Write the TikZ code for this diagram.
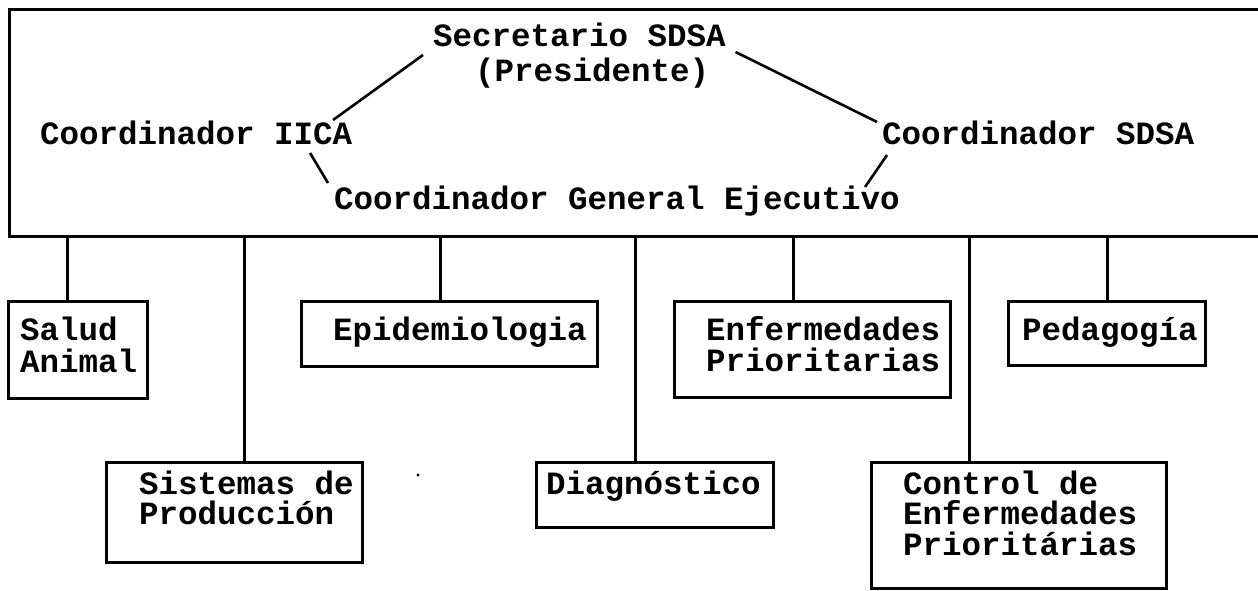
\documentclass[tikz,border=0pt]{standalone}
\usepackage{fontspec}
\newfontfamily\courfont{Liberation Mono}
\begin{document}
\begin{tikzpicture}[x=1pt,y=-1pt,
  txt/.style={inner sep=0pt, outer sep=0pt, anchor=base west, text height=20pt, text depth=7pt,
    font=\courfont\bfseries\fontsize{32.5pt}{35pt}\selectfont},
  box/.style={draw, line width=3pt, anchor=north west, inner sep=0pt, outer sep=0pt},
  link/.style={line width=2.6pt},
  drop/.style={line width=3pt}]
\useasboundingbox (0,0) rectangle (1258,591);
% frame (no right border: cut at the image edge)
\node[anchor=north west, inner sep=0pt, outer sep=0pt, minimum width=1256pt, minimum height=226pt] (frame) at (9,10) {};
\draw[line width=3pt] (frame.north east) -- (frame.north west) -- (frame.south west) -- (frame.south east);
% texts in frame
\node[txt] (secA) at (433,47) {Secretario SDSA};
\node[txt] (secB) at (475,82) {(Presidente)};
\node[txt] (iica) at (40,145) {Coordinador IICA};
\node[txt] (sdsa) at (882,145) {Coordinador SDSA};
\node[txt] (gen)  at (334,209) {Coordinador General Ejecutivo};
\draw[link] ([shift={(-10,1)}]secA.south west) -- ([shift={(-19,-5)}]iica.north east);
\draw[link] ([shift={(-42,1)}]iica.south east) -- ([shift={(-6,-6)}]gen.north west);
\draw[link] ([shift={(10,-2)}]secA.south east) -- ([shift={(-5,-3)}]sdsa.north west);
\draw[link] ([shift={(5,3)}]sdsa.south west) -- ([shift={(-34.5,-2)}]gen.north east);
% boxes
\node[box, minimum width=139pt, minimum height=97pt] (sal) at (8,301) {};
\node[box, minimum width=296pt, minimum height=65pt] (epi) at (301,301) {};
\node[box, minimum width=276pt, minimum height=96pt] (enf) at (674,301) {};
\node[box, minimum width=197pt, minimum height=64pt] (ped) at (1008,301) {};
\node[box, minimum width=256pt, minimum height=100pt] (sis) at (106,462) {};
\node[box, minimum width=237pt, minimum height=65pt] (dia) at (536,462) {};
\node[box, minimum width=295pt, minimum height=126pt] (con) at (871,462) {};
% box texts
\node[txt] (salA) at (20,340) {Salud};
\node[txt] (salB) at (20,372) {Animal};
\node[txt] (epiA) at (333,340) {Epidemiologia};
\node[txt] (enfA) at (706,340) {Enfermedades};
\node[txt] (enfB) at (706,371) {Prioritarias};
\node[txt] (pedA) at (1022,340) {Pedagogía};
\node[txt] (sisA) at (139,494) {Sistemas de};
\node[txt] (sisB) at (139,524) {Producción};
\node[txt] (diaA) at (546,494) {Diagnóstico};
\node[txt] (conA) at (903,494) {Control de};
\node[txt] (conB) at (903,524.5) {Enfermedades};
\node[txt] (conC) at (903,555) {Prioritárias};
% drop lines
\path (sal.north west) ++(59,0) coordinate (salc);
\path (sis.north west) ++(138,0) coordinate (sisc);
\path (epi.north west) ++(139,0) coordinate (epic);
\path (dia.north west) ++(99,0) coordinate (diac);
\path (enf.north west) ++(119,0) coordinate (enfc);
\path (con.north west) ++(98,0) coordinate (conc);
\path (ped.north west) ++(99,0) coordinate (pedc);
\foreach \c in {salc,sisc,epic,diac,enfc,conc,pedc}
  \draw[drop] (\c) -- (\c |- frame.south);
% stray speck in the scan
\fill (418,475) circle (1.6pt);
\end{tikzpicture}
\end{document}
